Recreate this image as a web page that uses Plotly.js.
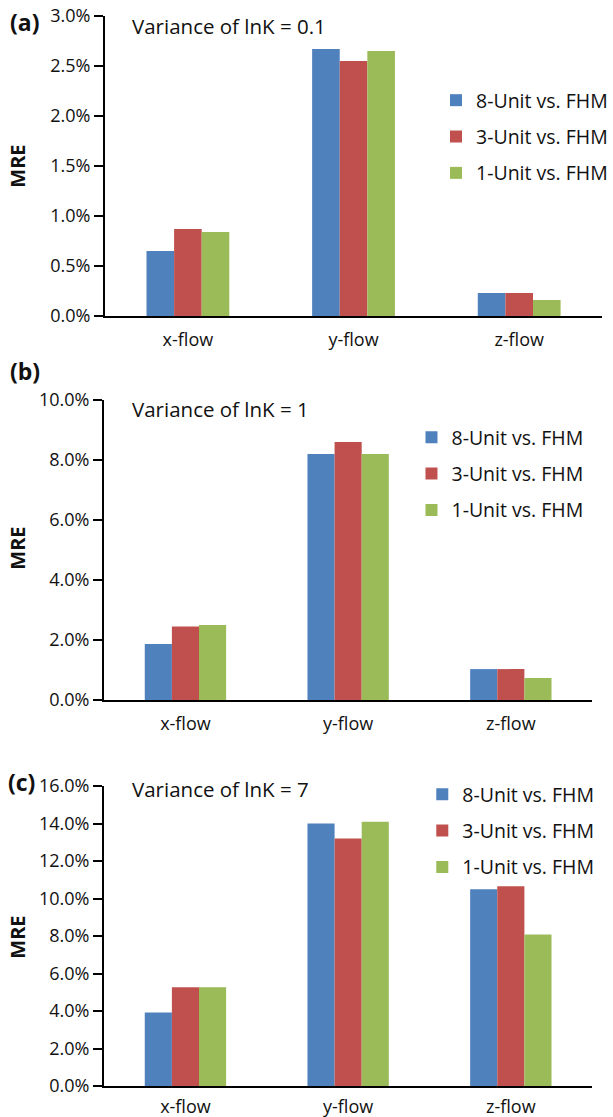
<!DOCTYPE html>
<html>
<head>
<meta charset="utf-8">
<script src="https://cdn.plot.ly/plotly-3.0.1.min.js"></script>
<style>html,body{margin:0;padding:0;background:#fff;}#chart{width:613px;height:1117px;}</style>
</head>
<body>
<div id="chart"></div>
<script>
// ---- data ----
var categories = ['x-flow', 'y-flow', 'z-flow'];
var seriesNames = ['8-Unit vs. FHM', '3-Unit vs. FHM', '1-Unit vs. FHM'];
var panelLabels = ['(a)', '(b)', '(c)'];
var panelTitles = ['Variance of lnK = 0.1', 'Variance of lnK = 1', 'Variance of lnK = 7'];
// panel (a)
var a8 = [0.0065, 0.0267, 0.0023];
var a3 = [0.0087, 0.0255, 0.0023];
var a1 = [0.0084, 0.0265, 0.0016];
// panel (b)
var b8 = [0.0187, 0.0820, 0.0103];
var b3 = [0.0245, 0.0860, 0.0103];
var b1 = [0.0250, 0.0820, 0.0073];
// panel (c)
var c8 = [0.0392, 0.1400, 0.1050];
var c3 = [0.0527, 0.1320, 0.1065];
var c1 = [0.0527, 0.1410, 0.0808];
var yMax = [0.03, 0.10, 0.16];
var yStep = [0.005, 0.02, 0.02];

// ---- styling ----
var W = 613, H = 1117;
var colors = ['#4F81BD', '#C0504D', '#9BBB59'];
var FONT = 'Open Sans, sans-serif';
var TXT = '#111';
function px(x) { return x / W; }
function py(y) { return 1 - y / H; }

var panels = [
  {vals: [a8, a3, a1], xl: 107, xr: 613, yt: 16, yb: 316, leg: {x: 444, y: 81}, title: {x: 132, y: 26}, lab: {x: 25, y: 22}, mre: 166, stand: 6},
  {vals: [b8, b3, b1], xl: 106, xr: 603, yt: 400, yb: 700, leg: {x: 419, y: 418}, title: {x: 132, y: 409}, lab: {x: 25, y: 371}, mre: 548, stand: 6},
  {vals: [c8, c3, c1], xl: 106, xr: 603, yt: 786, yb: 1086, leg: {x: 430, y: 775}, title: {x: 132, y: 789}, lab: {x: 22, y: 782}, mre: 937, stand: 3}
];

var data = [];
var layout = {
  width: W, height: H,
  margin: {l: 0, r: 0, t: 0, b: 0},
  paper_bgcolor: '#fff', plot_bgcolor: '#fff',
  barmode: 'group', bargap: 0.5, bargroupgap: 0,
  font: {family: FONT, size: 18, color: TXT},
  annotations: []
};

panels.forEach(function (p, i) {
  var n = i === 0 ? '' : String(i + 1);
  var legName = 'legend' + n;
  p.vals.forEach(function (v, k) {
    data.push({
      type: 'bar', x: categories, y: v, name: seriesNames[k],
      marker: {color: colors[k], line: {width: 0}},
      xaxis: 'x' + n, yaxis: 'y' + n,
      legend: legName, legendgroup: 'g' + i + '_' + k,
      hoverinfo: 'x+y+name'
    });
  });
  layout['xaxis' + n] = {
    domain: [px(p.xl), px(p.xr)], anchor: 'y' + n,
    showline: true, linecolor: '#000', linewidth: 2,
    ticks: '', showgrid: false, zeroline: false,
    ticklabelstandoff: p.stand,
    tickfont: {family: FONT, size: 18, color: TXT}
  };
  layout['yaxis' + n] = {
    domain: [py(p.yb), py(p.yt)], anchor: 'x' + n,
    range: [0, yMax[i]], dtick: yStep[i], tick0: 0, tickformat: '.1%',
    showline: true, linecolor: '#000', linewidth: 2,
    ticks: 'outside', ticklen: 9, tickwidth: 2, tickcolor: '#000',
    showgrid: false, zeroline: false,
    tickfont: {family: FONT, size: 18, color: TXT}
  };
  layout[legName] = {
    x: px(p.leg.x), y: py(p.leg.y), xanchor: 'left', yanchor: 'top',
    bgcolor: 'rgba(0,0,0,0)', borderwidth: 0,
    font: {family: FONT, size: 19.5, color: TXT},
    tracegroupgap: 8, itemclick: false, itemdoubleclick: false
  };
  layout.annotations.push({
    xref: 'paper', yref: 'paper', x: px(p.title.x), y: py(p.title.y),
    xanchor: 'left', yanchor: 'middle', showarrow: false,
    text: panelTitles[i], font: {family: FONT, size: 20.5, color: TXT}
  });
  layout.annotations.push({
    xref: 'paper', yref: 'paper', x: px(p.lab.x), y: py(p.lab.y),
    xanchor: 'center', yanchor: 'middle', showarrow: false,
    text: '<b>' + panelLabels[i] + '</b>', font: {family: FONT, size: 23, color: TXT}
  });
  layout.annotations.push({
    xref: 'paper', yref: 'paper', x: px(17), y: py(p.mre),
    xanchor: 'center', yanchor: 'middle', showarrow: false, textangle: -90,
    text: '<b>MRE</b>', font: {family: FONT, size: 20, color: TXT}
  });
});

Plotly.newPlot('chart', data, layout, {displayModeBar: false});
</script>
</body>
</html>
